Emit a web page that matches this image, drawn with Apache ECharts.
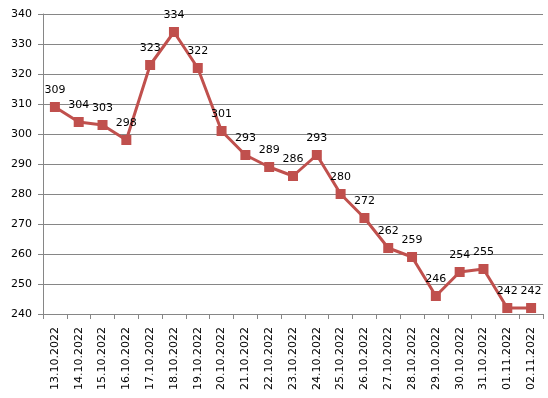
<!DOCTYPE html>
<html>
<head>
<meta charset="utf-8">
<script src="https://cdn.jsdelivr.net/npm/echarts@6/dist/echarts.min.js"></script>
<style>
html, body { margin: 0; padding: 0; background: #fff; }
#container { width: 548px; height: 398px; }
</style>
</head>
<body>
<div id="container"></div>
<script>
// даты и значения
var dates = ['13.10.2022', '14.10.2022', '15.10.2022', '16.10.2022', '17.10.2022', '18.10.2022',
    '19.10.2022', '20.10.2022', '21.10.2022', '22.10.2022', '23.10.2022', '24.10.2022',
    '25.10.2022', '26.10.2022', '27.10.2022', '28.10.2022', '29.10.2022', '30.10.2022',
    '31.10.2022', '01.11.2022', '02.11.2022'];
var values = [309, 304, 303, 298, 323, 334, 322, 301, 293, 289, 286, 293,
    280, 272, 262, 259, 246, 254, 255, 242, 242];

var yMin = 240, yMax = 340, yStep = 10;

var font = 'DejaVu Sans';
var chart = echarts.init(document.getElementById('container'));
var option = {
    animation: false,
    grid: { left: 43, right: 5, top: 14, bottom: 84 },
    xAxis: {
        type: 'category',
        data: dates,
        boundaryGap: true,
        axisLine: { lineStyle: { color: '#868686' } },
        axisTick: { show: true, alignWithLabel: false, length: 5, lineStyle: { color: '#868686' } },
        axisLabel: { rotate: 90, interval: 0, color: '#000', fontFamily: font, fontSize: 11, margin: 13 }
    },
    yAxis: {
        type: 'value',
        min: yMin, max: yMax, interval: yStep,
        axisLine: { show: true, lineStyle: { color: '#868686' } },
        axisTick: { show: true, length: 5, lineStyle: { color: '#868686' } },
        axisLabel: { color: '#000', fontFamily: font, fontSize: 11, margin: 11 },
        splitLine: { lineStyle: { color: '#868686' } }
    },
    series: [{
        type: 'line',
        data: values,
        symbol: 'rect',
        symbolSize: 10,
        itemStyle: { color: '#C0504D' },
        lineStyle: { color: '#C0504D', width: 3 },
        label: {
            show: true, position: 'top', distance: 6,
            color: '#000', fontFamily: font, fontSize: 11
        }
    }]
};
chart.setOption(option);
</script>
</body>
</html>
